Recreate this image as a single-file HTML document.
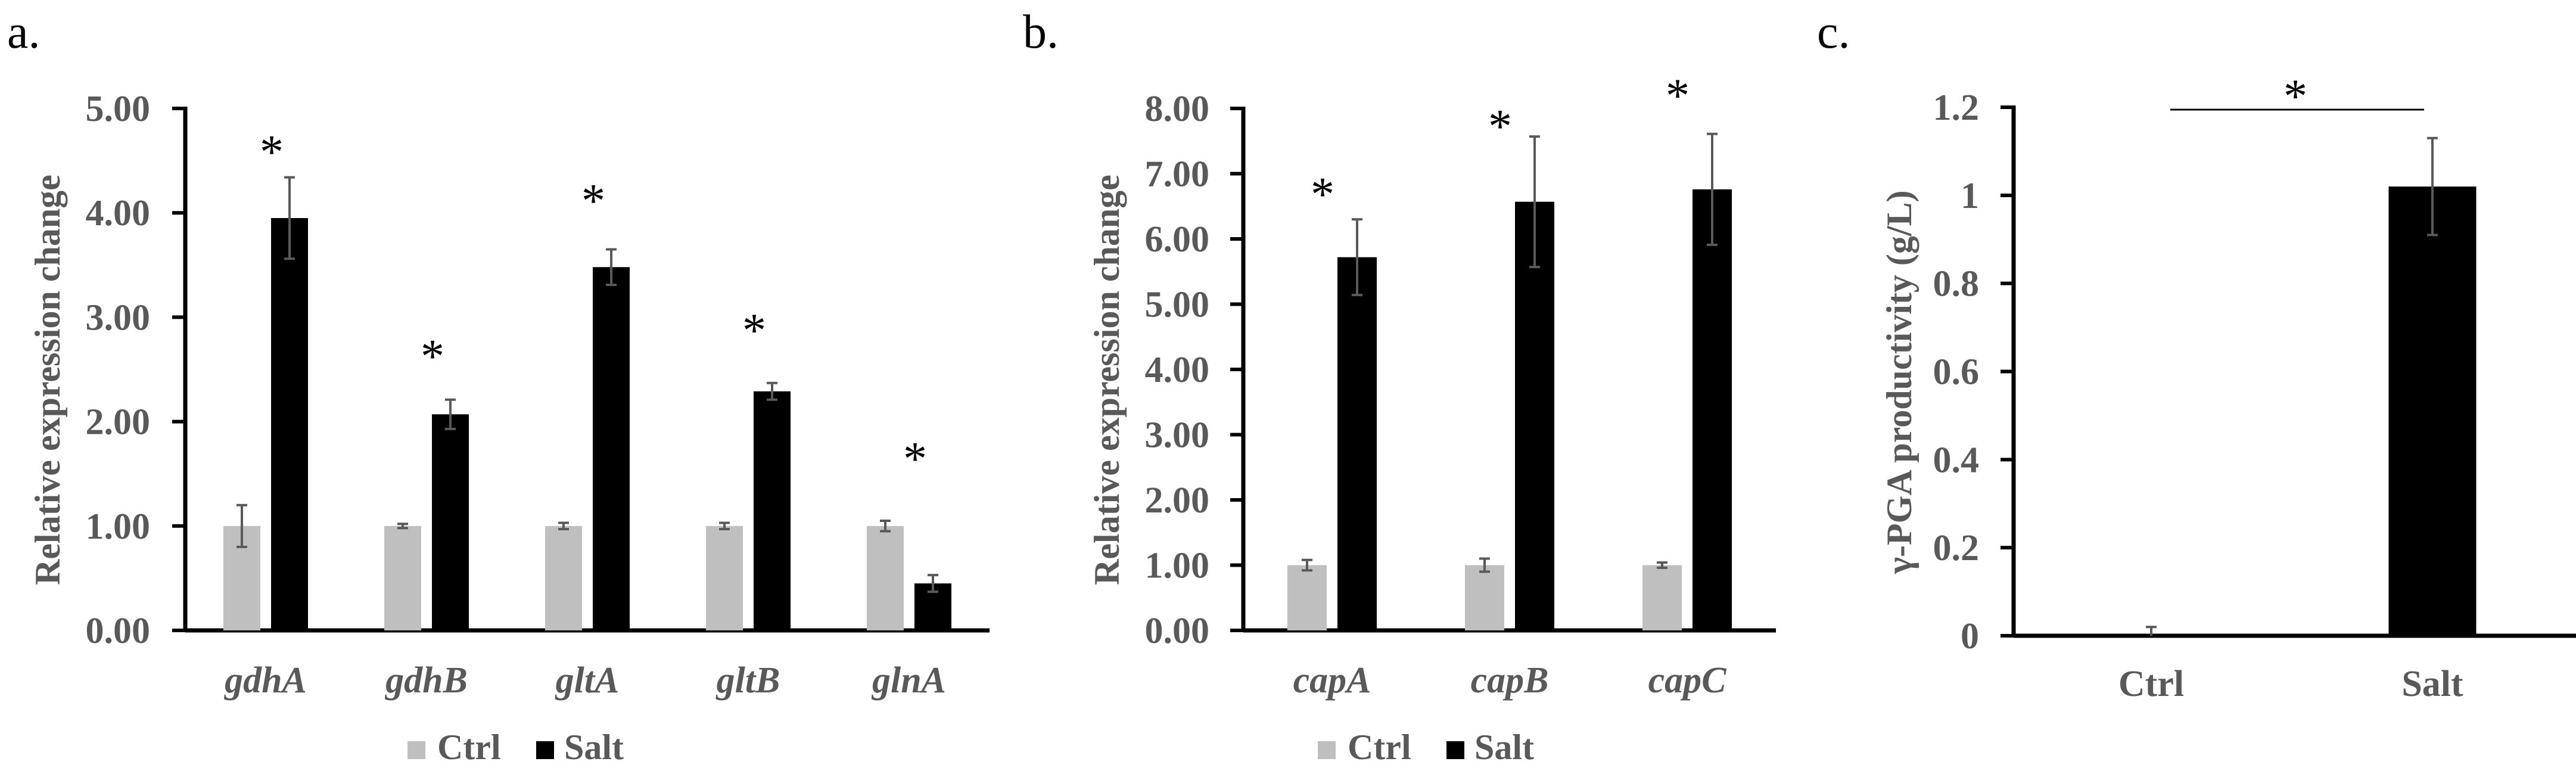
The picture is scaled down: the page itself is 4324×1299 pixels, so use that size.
<!DOCTYPE html>
<html><head><meta charset="utf-8"><style>
html,body{margin:0;padding:0;background:#fff;}
svg{display:block;}
text{font-family:"Liberation Serif",serif;}
</style></head><body>
<svg id="fig" width="4324" height="1299" viewBox="0 0 4324 1299" xmlns="http://www.w3.org/2000/svg"></svg>
<script>
// Panel a data
const aCats = ["gdhA","gdhB","gltA","gltB","glnA"];
const aCtrl = [1.00,1.00,1.00,1.00,1.00];
const aCtrlErr = [0.20,0.02,0.03,0.03,0.05];
const aSalt = [3.95,2.07,3.48,2.29,0.45];
const aSaltErr = [0.39,0.14,0.17,0.08,0.08];
const aStars = [4.65,2.69,4.18,2.94,1.71];
const aTicks = ["0.00","1.00","2.00","3.00","4.00","5.00"];
// Panel b data
const bCats = ["capA","capB","capC"];
const bCtrl = [1.00,1.00,1.00];
const bCtrlErr = [0.08,0.10,0.04];
const bSalt = [5.72,6.57,6.76];
const bSaltErr = [0.58,1.00,0.85];
const bStars = [6.79,7.83,8.30];
const bTicks = ["0.00","1.00","2.00","3.00","4.00","5.00","6.00","7.00","8.00"];
// Panel c data
const cCats = ["Ctrl","Salt"];
const cVals = [0.00,1.02];
const cErr = [0.02,0.11];
const cTicks = ["0","0.2","0.4","0.6","0.8","1","1.2"];

const NS="http://www.w3.org/2000/svg";
const svg=document.getElementById('fig');
const GRAY="#595959";
function mk(tag,attrs,parent){const e=document.createElementNS(NS,tag);for(const k in attrs)e.setAttribute(k,attrs[k]);(parent||svg).appendChild(e);return e;}
function txt(s,attrs,parent){const e=mk('text',attrs,parent);e.textContent=s;return e;}

function axes(g,x0,x1,y0,y1,ticks,max,labelRight,title,titleX){
  const ys=v=>y0-(v/max)*(y0-y1);
  ticks.forEach(t=>{
    const v=parseFloat(t);
    const tk=mk('line',{x1:x0-22,x2:x0,y1:ys(v),y2:ys(v),stroke:"#000","stroke-width":6},g);
    
    
    const tl=txt(t,{x:labelRight,y:ys(v)+21,"text-anchor":"end","font-size":62,"font-weight":"bold",fill:GRAY},g);
    
    
  });
  const ya=mk('line',{x1:x0,x2:x0,y1:y1-3,y2:y0+3,stroke:"#000","stroke-width":7},g);
  
  
  const xa=mk('line',{x1:x0,x2:x1,y1:y0,y2:y0,stroke:"#000","stroke-width":7},g);
  
  
  const yc=(y0+y1)/2+(y0-y1)*0.02;
  const tt=txt(title,{x:0,y:0,transform:`translate(${titleX},${yc}) rotate(-90)`,"text-anchor":"middle","font-size":60,"font-weight":"bold",fill:GRAY},g);
  
  
  return ys;
}
function bar(g,cx,w,v,err,fill,ys,name){
  const r=mk('rect',{x:cx-w/2,y:ys(v),width:w,height:ys(0)-ys(v),fill:fill},g);
  
  
  const eg=mk('g',{stroke:GRAY,"stroke-width":4},g);
  
  
  mk('line',{x1:cx,x2:cx,y1:ys(v+err),y2:ys(Math.max(0,v-err))},eg);
  mk('line',{x1:cx-9,x2:cx+9,y1:ys(v+err),y2:ys(v+err)},eg);
  if(v-err>0)mk('line',{x1:cx-9,x2:cx+9,y1:ys(v-err),y2:ys(v-err)},eg);
}
function star(g,x,y){const s=txt('*',{x:x,y:y+38,"text-anchor":"middle","font-size":80,fill:"#000"},g);
  
  }
function legend(g,x,y){
  const l=mk('g',{},g);
  
  
  const b1=mk('rect',{x:x,y:y-26,width:30,height:30,fill:"#bfbfbf"},l);
  
  
  const t1=txt('Ctrl',{x:x+50,y:y+4,"font-size":60,"font-weight":"bold",fill:GRAY},l);
  
  
  const b2=mk('rect',{x:x+216,y:y-26,width:30,height:30,fill:"#000"},l);
  
  
  const t2=txt('Salt',{x:x+263,y:y+4,"font-size":60,"font-weight":"bold",fill:GRAY},l);
  
  
}
function panelLabel(s,x){const p=txt(s,{x:x,y:80,"font-size":80,fill:"#000"});
  
  }

// Panel a
(function(){
  const g=mk('g',{});
  
  
  const x0=311,x1=1661,y0=1058,y1=182;
  const ys=axes(g,x0,x1,y0,y1,aTicks,5,252,"Relative expression change",100);
  const band=(x1-x0)/aCats.length;
  aCats.forEach((c,i)=>{
    const cx=x0+band*(i+0.5);
    bar(g,cx-40,62,aCtrl[i],aCtrlErr[i],"#bfbfbf",ys,'bar-ctrl-'+c);
    bar(g,cx+40,62,aSalt[i],aSaltErr[i],"#000",ys,'bar-salt-'+c);
    star(g,cx+10,ys(aStars[i]));
    const l=txt(c,{x:cx,y:1162,"text-anchor":"middle","font-size":62,"font-weight":"bold","font-style":"italic",fill:GRAY},g);
    
    
  });
  legend(g,684,1270);
  panelLabel('a.',12);
})();
// Panel b
(function(){
  const g=mk('g',{});
  
  
  const x0=2087,x1=2981,y0=1058,y1=182;
  const ys=axes(g,x0,x1,y0,y1,bTicks,8,2030,"Relative expression change",1878);
  const band=(x1-x0)/bCats.length;
  bCats.forEach((c,i)=>{
    const cx=x0+band*(i+0.5);
    bar(g,cx-42,66,bCtrl[i],bCtrlErr[i],"#bfbfbf",ys,'bar-ctrl-'+c);
    bar(g,cx+42,66,bSalt[i],bSaltErr[i],"#000",ys,'bar-salt-'+c);
    star(g,cx-16,ys(bStars[i]));
    const l=txt(c,{x:cx,y:1162,"text-anchor":"middle","font-size":62,"font-weight":"bold","font-style":"italic",fill:GRAY},g);
    
    
  });
  legend(g,2212,1270);
  panelLabel('b.',1717);
})();
// Panel c
(function(){
  const g=mk('g',{});
  
  
  const x0=3380,x1=4324,y0=1067,y1=180;
  const ys=axes(g,x0,x1,y0,y1,cTicks,1.2,3322,"γ-PGA productivity (g/L)",3208);
  const band=(x1-x0)/cCats.length;
  cCats.forEach((c,i)=>{
    const cx=x0+band*(i+0.5)-5;
    bar(g,cx,147,cVals[i],cErr[i],i===0?"#bfbfbf":"#000",ys,'bar-'+c.toLowerCase());
    const l=txt(c,{x:cx,y:1168,"text-anchor":"middle","font-size":62,"font-weight":"bold",fill:GRAY},g);
    
    
  });
  const sl=mk('line',{x1:3643,x2:4069,y1:184,y2:184,stroke:"#000","stroke-width":3},g);
  
  
  star(g,3853,150);
  panelLabel('c.',3050);
})();
</script>
</body></html>
